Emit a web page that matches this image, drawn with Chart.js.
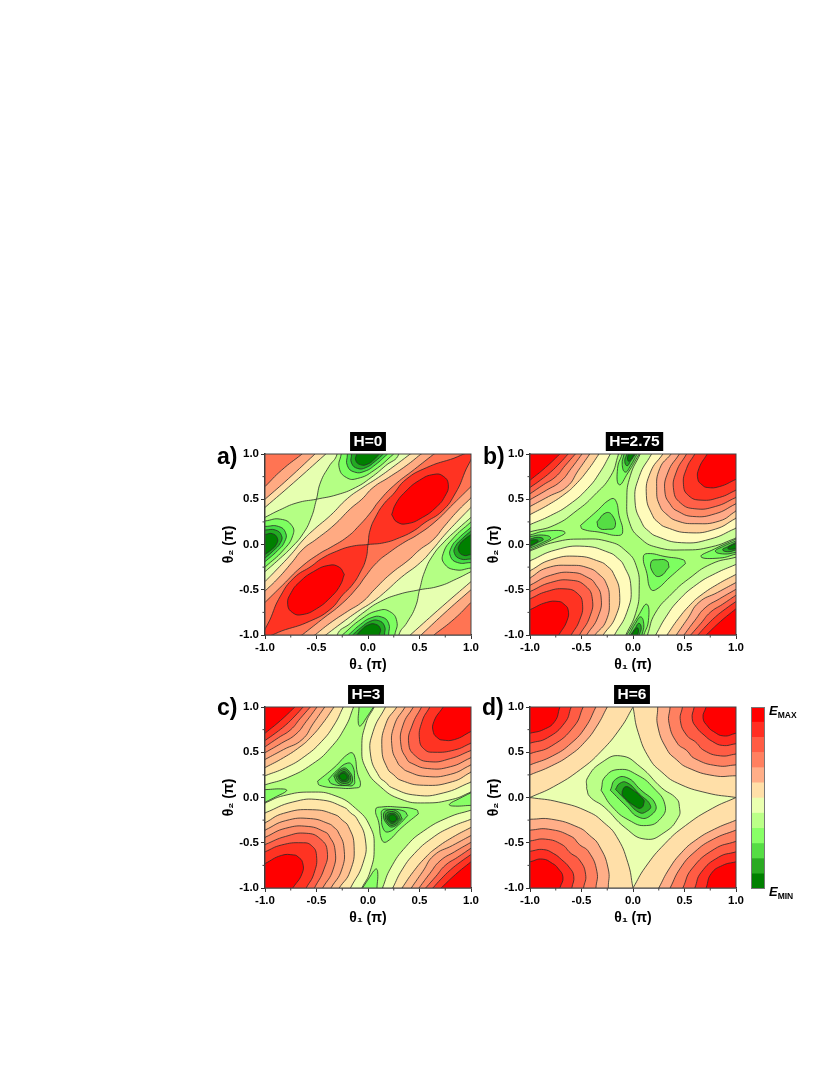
<!DOCTYPE html>
<html>
<head>
<meta charset="utf-8">
<title>Energy maps</title>
<script src="https://cdn.jsdelivr.net/npm/chart.js@4"></script>
<style>
html, body { margin: 0; padding: 0; background: #fff; }
body { position: relative; width: 830px; height: 1075px; overflow: hidden; font-family: "Liberation Sans", Arial, sans-serif; }
canvas { position: absolute; }
.tag { position: absolute; font: bold 23px/1 "Liberation Sans", Arial, sans-serif; color: #000; }
.scale { position: absolute; left: 769px; font: italic bold 13px/1 "Liberation Sans", Arial, sans-serif; color: #000; white-space: nowrap; }
.scale span { font-style: normal; font-size: 8.5px; position: relative; top: 3px; }
</style>
</head>
<body>
<canvas id="panelA" width="310" height="250" style="left:213px;top:430px"></canvas>
<canvas id="panelB" width="310" height="250" style="left:478px;top:430px"></canvas>
<canvas id="panelC" width="310" height="250" style="left:213px;top:683px"></canvas>
<canvas id="panelD" width="310" height="250" style="left:478px;top:683px"></canvas>
<canvas id="colorBar" width="14" height="182" style="left:751px;top:707px"></canvas>
<div class="tag" style="left:217px;top:445px">a)</div>
<div class="tag" style="left:483px;top:445px">b)</div>
<div class="tag" style="left:217px;top:696px">c)</div>
<div class="tag" style="left:482px;top:696px">d)</div>
<div class="scale" style="top:704px">E<span>MAX</span></div>
<div class="scale" style="top:885px">E<span>MIN</span></div>
<script>
const axisTicks = [-1, -0.5, 0, 0.5, 1];
const minorTicks = [-0.75, -0.25, 0.25, 0.75];
const barColors = ['#008000', '#2aaa22', '#55dd44', '#88ff66', '#bbff88', '#eaffb0', '#ffdfa8', '#ffae88', '#ff8060', '#ff5c44', '#ff2e22', '#ff0000'];
const barSteps = [1, 1, 1, 1, 1, 1, 1, 1, 1, 1, 1, 1];

const bandsA = ['#ff0000', '#ff3322', '#ff7453', '#ffaa82', '#ffdfa8', '#e6ffb0', '#b4ff84', '#7dff60', '#44dd44', '#22aa22', '#008000'];
const bandsB = ['#ff0000', '#ff3322', '#ff6048', '#ff8a66', '#ffaa88', '#ffd09a', '#fffbbb', '#ccff99', '#aaff77', '#7dff60', '#55dd44', '#22aa22', '#008000'];
const bandsC = ['#ff0000', '#ff3322', '#ff6048', '#ff8a66', '#ffa880', '#ffc090', '#ffe6a8', '#eeffb0', '#b4ff80', '#88ff66', '#66ee55', '#44cc33', '#2aaa22', '#118811', '#007f00'];
const bandsD = ['#ff0000', '#ff2e22', '#ff5c44', '#ff8060', '#ffae88', '#ffdfa8', '#eaffb0', '#bbff88', '#88ff66', '#55dd44', '#2aaa22', '#008000'];

// contour outlines: [band, [x, y, x, y, ...]], painted in this order
const regionsA = [
    [5, [-3, -3, 3, -3, 3, 3, -3, 3]],
    [4, [-1, .41, -.725, .68, -.41, 1, -1.3, 1.3]],
    [3, [-1, .5, -.77, .73, -.515, 1, -1.3, 1.3]],
    [2, [-1, .64, -.84, .82, -.64, 1, -1.3, 1.3]],
    [4, [1, -.41, .725, -.68, .41, -1, 1.3, -1.3]],
    [3, [1, -.5, .77, -.73, .515, -1, 1.3, -1.3]],
    [2, [1, -.64, .84, -.82, .64, -1, 1.3, -1.3]],
    [4, [-1, -.41, -.88, -.27, -.74, -.1, -.63, .05, -.52, .17, -.362, .324, -.2, .508, -.05, .63, .1, .74, .27, .88, .41, 1, 1.3, 1.3, 1, .41, .88, .27, .74, .1, .63, -.05, .508, -.2, .324, -.362, .17, -.52, .05, -.63, -.1, -.74, -.27, -.88, -.41, -1, -1.3, -1.3]],
    [3, [-1, -.515, -.87, -.37, -.74, -.2, -.63, -.05, -.5, .06, -.33, .214, -.168, .398, -.06, .5, .05, .63, .2, .74, .37, .87, .515, 1, 1.3, 1.3, 1, .515, .87, .37, .74, .2, .63, .05, .5, -.06, .398, -.168, .214, -.33, .06, -.5, -.05, -.63, -.2, -.74, -.37, -.87, -.515, -1, -1.3, -1.3]],
    [2, [-1, -.64, -.83, -.45, -.65, -.25, -.47, -.1, -.36, -.03, -.2, .085, -.085, .21, .03, .36, .1, .47, .25, .65, .45, .83, .64, 1, 1.3, 1.3, 1, .64, .83, .45, .65, .25, .47, .1, .36, .03, .21, -.085, .085, -.2, -.03, -.36, -.1, -.47, -.25, -.65, -.45, -.83, -.64, -1, -1.3, -1.3]],
    [1, [0, 0, .02, .158, .074, .304, .155, .45, .24, .55, .37, .72, .57, .85, .8, .94, 1, 1, .94, .8, .85, .57, .72, .37, .545, .236, .45, .155, .304, .074, .158, .02, 0, 0]],
    [1, [0, 0, -.02, -.158, -.074, -.304, -.155, -.45, -.24, -.55, -.37, -.72, -.57, -.85, -.8, -.94, -1, -1, -.94, -.8, -.85, -.57, -.72, -.37, -.545, -.236, -.45, -.155, -.304, -.074, -.158, -.02, 0, 0]],
    [0, [.23, .33, .27, .45, .36, .58, .5, .71, .64, .775, .73, .755, .78, .66, .745, .53, .66, .41, .53, .3, .38, .23, .28, .25, .23, .33]],
    [0, [-.23, -.33, -.27, -.45, -.36, -.58, -.5, -.71, -.64, -.775, -.73, -.755, -.78, -.66, -.745, -.53, -.66, -.41, -.53, -.3, -.38, -.23, -.28, -.25, -.23, -.33]],
    [6, [-.5, .5, -.46, .69, -.38, .86, -.3, 1, -.27, 1.3, .33, 1.3, .3, 1, .17, .87, .03, .74, -.12, .63, -.3, .55, -.5, .5]],
    [6, [-.5, .5, -.69, .46, -.86, .38, -1, .3, -1.3, .2, -1.3, -.35, -1, -.3, -.87, -.17, -.74, -.03, -.63, .12, -.55, .3, -.5, .5]],
    [6, [.5, -.5, .69, -.46, .86, -.38, 1, -.3, 1.3, -.2, 1.3, .35, 1, .3, .87, .17, .74, .03, .63, -.12, .55, -.3, .5, -.5]],
    [6, [.5, -.5, .46, -.69, .38, -.86, .3, -1, .27, -1.3, -.33, -1.3, -.3, -1, -.17, -.87, -.03, -.74, .12, -.63, .3, -.55, .5, -.5]],
    [7, [-1, .26, -.85, .28, -.74, .21, -.73, .1, -.82, -.06, -1, -.25]],
    [8, [-1, .2, -.87, .2, -.8, .13, -.81, .03, -.88, -.07, -1, -.19]],
    [9, [-1, .16, -.9, .16, -.84, .1, -.85, .02, -.92, -.07, -1, -.15]],
    [10, [-1, .11, -.93, .12, -.88, .07, -.89, 0, -.94, -.06, -1, -.11]],
    [7, [1, -.26, .85, -.28, .74, -.21, .73, -.1, .82, .06, 1, .25]],
    [8, [1, -.2, .87, -.2, .8, -.13, .81, -.03, .88, .07, 1, .19]],
    [9, [1, -.16, .9, -.16, .84, -.1, .85, -.02, .92, .07, 1, .15]],
    [10, [1, -.11, .93, -.12, .88, -.07, .89, 0, .94, .06, 1, .11]],
    [7, [-.26, 1, -.28, .85, -.21, .74, -.1, .73, .06, .82, .25, 1]],
    [8, [-.2, 1, -.2, .87, -.13, .8, -.03, .81, .07, .88, .19, 1]],
    [9, [-.16, 1, -.16, .9, -.1, .84, -.02, .85, .07, .92, .15, 1]],
    [10, [-.11, 1, -.12, .93, -.07, .88, 0, .89, .06, .94, .11, 1]],
    [7, [.26, -1, .28, -.85, .21, -.74, .1, -.73, -.06, -.82, -.25, -1]],
    [8, [.2, -1, .2, -.87, .13, -.8, .03, -.81, -.07, -.88, -.19, -1]],
    [9, [.16, -1, .16, -.9, .1, -.84, .02, -.85, -.07, -.92, -.15, -1]],
    [10, [.11, -1, .12, -.93, .07, -.88, 0, -.89, -.06, -.94, -.11, -1]]
];

const regionsB = [
    [8, [-3, -3, 3, -3, 3, 3, -3, 3]],
    [7, [.07, 1, -.026, .76, -.06, .5, -.03, .23, .07, .07, .23, -.03, .5, -.06, .76, -.026, 1, .07, 1.3, 1.3]],
    [6, [.18, 1, .06, .75, .02, .47, .09, .23, .15, .15, .23, .09, .47, .02, .75, .06, 1, .18, 1.3, 1.3]],
    [5, [.29, 1, .17, .8, .13, .54, .19, .32, .25, .24, .32, .19, .54, .13, .8, .17, 1, .29, 1.3, 1.3]],
    [4, [.37, 1, .26, .84, .23, .6, .26, .43, .33, .33, .43, .26, .6, .23, .84, .26, 1, .37, 1.3, 1.3]],
    [3, [.45, 1, .34, .8, .31, .58, .37, .43, .43, .37, .58, .31, .8, .34, 1, .45, 1.3, 1.3]],
    [2, [.52, 1, .42, .8, .395, .6, .46, .46, .6, .395, .8, .42, 1, .52, 1.3, 1.3]],
    [1, [.6, 1, .52, .84, .49, .66, .54, .54, .66, .49, .84, .52, 1, .6, 1.3, 1.3]],
    [0, [.72, 1, .64, .84, .63, .72, .67, .66, .72, .63, .84, .64, 1, .72, 1.3, 1.3]],
    [7, [-.07, -1, .026, -.76, .06, -.5, .03, -.23, -.07, -.07, -.23, .03, -.5, .06, -.76, .026, -1, -.07, -1.3, -1.3]],
    [6, [-.18, -1, -.06, -.75, -.02, -.47, -.09, -.23, -.15, -.15, -.23, -.09, -.47, -.02, -.75, -.06, -1, -.18, -1.3, -1.3]],
    [5, [-.29, -1, -.17, -.8, -.13, -.54, -.19, -.32, -.25, -.24, -.32, -.19, -.54, -.13, -.8, -.17, -1, -.29, -1.3, -1.3]],
    [4, [-.37, -1, -.26, -.84, -.23, -.6, -.26, -.43, -.33, -.33, -.43, -.26, -.6, -.23, -.84, -.26, -1, -.37, -1.3, -1.3]],
    [3, [-.45, -1, -.34, -.8, -.31, -.58, -.37, -.43, -.43, -.37, -.58, -.31, -.8, -.34, -1, -.45, -1.3, -1.3]],
    [2, [-.52, -1, -.42, -.8, -.395, -.6, -.46, -.46, -.6, -.395, -.8, -.42, -1, -.52, -1.3, -1.3]],
    [1, [-.6, -1, -.52, -.84, -.49, -.66, -.54, -.54, -.66, -.49, -.84, -.52, -1, -.6, -1.3, -1.3]],
    [0, [-.72, -1, -.64, -.84, -.63, -.72, -.67, -.66, -.72, -.63, -.84, -.64, -1, -.72, -1.3, -1.3]],
    [7, [-1, .14, -.76, .215, -.54, .38, -.38, .54, -.215, .76, -.14, 1, -1.3, 1.3]],
    [6, [-1, .22, -.8, .32, -.62, .44, -.44, .62, -.32, .8, -.22, 1, -1.3, 1.3]],
    [5, [-1, .33, -.82, .44, -.66, .56, -.56, .66, -.44, .82, -.33, 1, -1.3, 1.3]],
    [4, [-1, .42, -.82, .53, -.64, .64, -.53, .82, -.42, 1, -1.3, 1.3]],
    [3, [-1, .495, -.84, .6, -.7, .7, -.6, .84, -.495, 1, -1.3, 1.3]],
    [2, [-1, .56, -.87, .66, -.75, .75, -.66, .87, -.56, 1, -1.3, 1.3]],
    [1, [-1, .63, -.9, .71, -.8, .8, -.71, .9, -.63, 1, -1.3, 1.3]],
    [0, [-1, .71, -.85, .85, -.71, 1, -1.3, 1.3]],
    [7, [1, -.14, .76, -.215, .54, -.38, .38, -.54, .215, -.76, .14, -1, 1.3, -1.3]],
    [6, [1, -.22, .8, -.32, .62, -.44, .44, -.62, .32, -.8, .22, -1, 1.3, -1.3]],
    [5, [1, -.33, .82, -.44, .66, -.56, .56, -.66, .44, -.82, .33, -1, 1.3, -1.3]],
    [4, [1, -.42, .82, -.53, .64, -.64, .53, -.82, .42, -1, 1.3, -1.3]],
    [3, [1, -.495, .84, -.6, .7, -.7, .6, -.84, .495, -1, 1.3, -1.3]],
    [2, [1, -.56, .87, -.66, .75, -.75, .66, -.87, .56, -1, 1.3, -1.3]],
    [1, [1, -.63, .9, -.71, .8, -.8, .71, -.9, .63, -1, 1.3, -1.3]],
    [0, [1, -.71, .85, -.85, .71, -1, 1.3, -1.3]],
    [9, [-.51, .21, -.36, .36, -.22, .5, -.17, .49, -.135, .32, -.1, .14, -.14, .1, -.32, .135, -.49, .17, -.51, .21]],
    [10, [-.35, .25, -.264, .35, -.2, .32, -.176, .193, -.25, .168, -.33, .183, -.35, .25]],
    [9, [.51, -.21, .36, -.36, .22, -.5, .17, -.49, .135, -.32, .1, -.14, .14, -.1, .32, -.135, .49, -.17, .51, -.21]],
    [10, [.35, -.25, .264, -.35, .2, -.32, .176, -.193, .25, -.168, .33, -.183, .35, -.25]],
    [9, [-1, .105, -.838, .15, -.66, .134, -.79, .05, -1, -.06]],
    [10, [-1, .087, -.886, .105, -.8, .075, -.87, .024, -1, -.04]],
    [11, [-1, .06, -.92, .08, -.87, .057, -.92, .024, -1, -.024]],
    [12, [-1, .046, -.94, .053, -.92, .039, -.95, .013, -1, -.013]],
    [9, [1, -.105, .838, -.15, .66, -.134, .79, -.05, 1, .06]],
    [10, [1, -.087, .886, -.105, .8, -.075, .87, -.024, 1, .04]],
    [11, [1, -.06, .92, -.08, .87, -.057, .92, -.024, 1, .024]],
    [12, [1, -.046, .94, -.053, .92, -.039, .95, -.013, 1, .013]],
    [9, [-.105, 1, -.15, .84, -.134, .66, -.05, .79, .06, 1]],
    [10, [-.087, 1, -.105, .886, -.075, .8, -.024, .87, .04, 1]],
    [11, [-.06, 1, -.08, .92, -.057, .87, -.024, .92, .024, 1]],
    [12, [-.046, 1, -.053, .94, -.039, .92, -.013, .95, .013, 1]],
    [9, [.105, -1, .15, -.84, .134, -.66, .05, -.79, -.06, -1]],
    [10, [.087, -1, .105, -.886, .075, -.8, .024, -.87, -.04, -1]],
    [11, [.06, -1, .08, -.92, .057, -.87, .024, -.92, -.024, -1]],
    [12, [.046, -1, .053, -.94, .039, -.92, .013, -.95, -.013, -1]]
];

const regionsC = [
    [8, [-3, -3, 3, -3, 3, 3, -3, 3]],
    [7, [.06, 1, -.02, .82, -.06, .55, -.02, .32, .12, .12, .32, -.02, .55, -.06, .82, -.02, 1, .06, 1.3, 1.3]],
    [6, [.17, 1, .05, .73, .025, .47, .11, .23, .17, .17, .23, .11, .47, .025, .73, .05, 1, .17, 1.3, 1.3]],
    [5, [.28, 1, .175, .82, .135, .54, .19, .32, .25, .25, .32, .19, .54, .135, .82, .175, 1, .28, 1.3, 1.3]],
    [4, [.36, 1, .256, .8, .233, .56, .29, .38, .33, .33, .38, .29, .56, .233, .8, .256, 1, .36, 1.3, 1.3]],
    [3, [.44, 1, .34, .8, .32, .58, .38, .42, .42, .38, .58, .32, .8, .34, 1, .44, 1.3, 1.3]],
    [2, [.52, 1, .43, .8, .395, .6, .46, .46, .6, .395, .8, .43, 1, .52, 1.3, 1.3]],
    [1, [.6, 1, .525, .84, .5, .64, .55, .53, .64, .5, .84, .525, 1, .6, 1.3, 1.3]],
    [0, [.73, 1, .64, .84, .635, .72, .68, .655, .72, .635, .84, .64, 1, .73, 1.3, 1.3]],
    [7, [-.06, -1, .02, -.82, .06, -.55, .02, -.32, -.12, -.12, -.32, .02, -.55, .06, -.82, .02, -1, -.06, -1.3, -1.3]],
    [6, [-.17, -1, -.05, -.73, -.025, -.47, -.11, -.23, -.17, -.17, -.23, -.11, -.47, -.025, -.73, -.05, -1, -.17, -1.3, -1.3]],
    [5, [-.28, -1, -.175, -.82, -.135, -.54, -.19, -.32, -.25, -.25, -.32, -.19, -.54, -.135, -.82, -.175, -1, -.28, -1.3, -1.3]],
    [4, [-.36, -1, -.256, -.8, -.233, -.56, -.29, -.38, -.33, -.33, -.38, -.29, -.56, -.233, -.8, -.256, -1, -.36, -1.3, -1.3]],
    [3, [-.44, -1, -.34, -.8, -.32, -.58, -.38, -.42, -.42, -.38, -.58, -.32, -.8, -.34, -1, -.44, -1.3, -1.3]],
    [2, [-.52, -1, -.43, -.8, -.395, -.6, -.46, -.46, -.6, -.395, -.8, -.43, -1, -.52, -1.3, -1.3]],
    [1, [-.6, -1, -.525, -.84, -.5, -.64, -.55, -.53, -.64, -.5, -.84, -.525, -1, -.6, -1.3, -1.3]],
    [0, [-.73, -1, -.64, -.84, -.635, -.72, -.68, -.655, -.72, -.635, -.84, -.64, -1, -.73, -1.3, -1.3]],
    [7, [-1, .14, -.78, .22, -.54, .37, -.37, .54, -.22, .78, -.14, 1, -1.3, 1.3]],
    [6, [-1, .24, -.8, .33, -.62, .45, -.45, .62, -.33, .8, -.24, 1, -1.3, 1.3]],
    [5, [-1, .33, -.82, .44, -.66, .56, -.56, .66, -.44, .82, -.33, 1, -1.3, 1.3]],
    [4, [-1, .42, -.82, .53, -.64, .64, -.53, .82, -.42, 1, -1.3, 1.3]],
    [3, [-1, .495, -.84, .6, -.7, .7, -.6, .84, -.495, 1, -1.3, 1.3]],
    [2, [-1, .56, -.87, .66, -.75, .75, -.66, .87, -.56, 1, -1.3, 1.3]],
    [1, [-1, .63, -.9, .71, -.8, .8, -.71, .9, -.63, 1, -1.3, 1.3]],
    [0, [-1, .71, -.85, .85, -.71, 1, -1.3, 1.3]],
    [7, [1, -.14, .78, -.22, .54, -.37, .37, -.54, .22, -.78, .14, -1, 1.3, -1.3]],
    [6, [1, -.24, .8, -.33, .62, -.45, .45, -.62, .33, -.8, .24, -1, 1.3, -1.3]],
    [5, [1, -.33, .82, -.44, .66, -.56, .56, -.66, .44, -.82, .33, -1, 1.3, -1.3]],
    [4, [1, -.42, .82, -.53, .64, -.64, .53, -.82, .42, -1, 1.3, -1.3]],
    [3, [1, -.495, .84, -.6, .7, -.7, .6, -.84, .495, -1, 1.3, -1.3]],
    [2, [1, -.56, .87, -.66, .75, -.75, .66, -.87, .56, -1, 1.3, -1.3]],
    [1, [1, -.63, .9, -.71, .8, -.8, .71, -.9, .63, -1, 1.3, -1.3]],
    [0, [1, -.71, .85, -.85, .71, -1, 1.3, -1.3]],
    [9, [-.49, .18, -.33, .33, -.18, .49, -.135, .47, -.105, .28, -.075, .13, -.13, .105, -.28, .105, -.47, .135, -.49, .18]],
    [10, [-.385, .2, -.3, .3, -.2, .38, -.15, .35, -.13, .2, -.14, .14, -.2, .13, -.35, .15, -.385, .2]],
    [11, [-.333, .24, -.25, .322, -.194, .304, -.15, .193, -.194, .138, -.29, .157, -.333, .24]],
    [12, [-.314, .24, -.25, .304, -.194, .285, -.17, .193, -.21, .157, -.28, .175, -.314, .24]],
    [13, [-.295, .24, -.243, .285, -.204, .267, -.185, .204, -.227, .175, -.27, .19, -.295, .24]],
    [14, [-.28, .24, -.243, .27, -.21, .25, -.204, .21, -.236, .19, -.265, .204, -.28, .24]],
    [9, [.49, -.18, .33, -.33, .18, -.49, .135, -.47, .105, -.28, .075, -.13, .13, -.105, .28, -.105, .47, -.135, .49, -.18]],
    [10, [.385, -.2, .3, -.3, .2, -.38, .15, -.35, .13, -.2, .14, -.14, .2, -.13, .35, -.15, .385, -.2]],
    [11, [.333, -.24, .25, -.322, .194, -.304, .15, -.193, .194, -.138, .29, -.157, .333, -.24]],
    [12, [.314, -.24, .25, -.304, .194, -.285, .17, -.193, .21, -.157, .28, -.175, .314, -.24]],
    [13, [.295, -.24, .243, -.285, .204, -.267, .185, -.204, .227, -.175, .27, -.19, .295, -.24]],
    [14, [.28, -.24, .243, -.27, .21, -.25, .204, -.21, .236, -.19, .265, -.204, .28, -.24]],
    [9, [-1, .087, -.82, .094, -.79, .075, -.886, .013, -1, -.053]],
    [9, [1, -.087, .82, -.094, .79, -.075, .886, -.013, 1, .053]],
    [9, [-.087, 1, -.094, .82, -.075, .79, -.013, .886, .053, 1]],
    [9, [.087, -1, .094, -.82, .075, -.79, .013, -.886, -.053, -1]]
];

const regionsD = [
    [6, [-3, -3, 3, -3, 3, 3, -3, 3]],
    [5, [0, 1, .05, .72, .16, .43, .28, .28, .43, .16, .72, .05, 1, 0, 1.3, 1.3]],
    [4, [.24, 1, .24, .79, .33, .53, .42, .42, .53, .33, .79, .24, 1, .24, 1.3, 1.3]],
    [3, [.36, 1, .35, .82, .43, .6, .52, .52, .6, .43, .82, .35, 1, .36, 1.3, 1.3]],
    [2, [.48, 1, .46, .85, .52, .69, .61, .61, .69, .52, .85, .46, 1, .48, 1.3, 1.3]],
    [1, [.594, 1, .575, .87, .62, .77, .69, .69, .77, .62, .87, .575, 1, .594, 1.3, 1.3]],
    [0, [.71, 1, .68, .88, .73, .78, .78, .73, .88, .68, 1, .71, 1.3, 1.3]],
    [5, [0, -1, -.05, -.72, -.16, -.43, -.28, -.28, -.43, -.16, -.72, -.05, -1, 0, -1.3, -1.3]],
    [4, [-.24, -1, -.24, -.79, -.33, -.53, -.42, -.42, -.53, -.33, -.79, -.24, -1, -.24, -1.3, -1.3]],
    [3, [-.36, -1, -.35, -.82, -.43, -.6, -.52, -.52, -.6, -.43, -.82, -.35, -1, -.36, -1.3, -1.3]],
    [2, [-.48, -1, -.46, -.85, -.52, -.69, -.61, -.61, -.69, -.52, -.85, -.46, -1, -.48, -1.3, -1.3]],
    [1, [-.594, -1, -.575, -.87, -.62, -.77, -.69, -.69, -.77, -.62, -.87, -.575, -1, -.594, -1.3, -1.3]],
    [0, [-.71, -1, -.68, -.88, -.73, -.78, -.78, -.73, -.88, -.68, -1, -.71, -1.3, -1.3]],
    [5, [0, 1, -.12, .77, -.31, .51, -.51, .31, -.77, .12, -1, 0, -1.3, 1.3]],
    [4, [-1, .25, -.79, .35, -.61, .47, -.47, .61, -.35, .79, -.25, 1, -1.3, 1.3]],
    [3, [-1, .36, -.78, .46, -.6, .6, -.46, .78, -.36, 1, -1.3, 1.3]],
    [2, [-1, .484, -.79, .57, -.57, .79, -.484, 1, -1.3, 1.3]],
    [1, [-1, .6, -.83, .66, -.66, .83, -.6, 1, -1.3, 1.3]],
    [0, [-1, .71, -.87, .75, -.76, .84, -.71, 1, -1.3, 1.3]],
    [5, [0, -1, .12, -.77, .31, -.51, .51, -.31, .77, -.12, 1, 0, 1.3, -1.3]],
    [4, [1, -.25, .79, -.35, .61, -.47, .47, -.61, .35, -.79, .25, -1, 1.3, -1.3]],
    [3, [1, -.36, .78, -.46, .6, -.6, .46, -.78, .36, -1, 1.3, -1.3]],
    [2, [1, -.484, .79, -.57, .57, -.79, .484, -1, 1.3, -1.3]],
    [1, [1, -.6, .83, -.66, .66, -.83, .6, -1, 1.3, -1.3]],
    [0, [1, -.71, .87, -.75, .76, -.84, .71, -1, 1.3, -1.3]],
    [7, [-.45, .1, -.44, .22, -.3, .39, -.12, .46, .07, .34, .28, .105, .42, -.01, .45, -.1, .44, -.22, .3, -.39, .12, -.46, -.07, -.34, -.28, -.105, -.42, .01, -.45, .1]],
    [8, [-.31, .08, -.27, .23, -.13, .31, .04, .25, .2, .105, .31, -.08, .27, -.23, .13, -.31, -.04, -.25, -.2, -.105, -.31, .08]],
    [9, [-.22, .08, -.17, .2, -.06, .22, .07, .09, .22, -.08, .17, -.2, .06, -.22, -.07, -.09, -.22, .08]],
    [10, [-.17, .09, -.13, .155, -.06, .165, .06, .04, .17, -.09, .13, -.155, .06, -.165, -.06, -.04, -.17, .09]],
    [11, [-.105, .065, -.08, .115, -.03, .105, .1, -.02, .105, -.065, .08, -.115, .03, -.105, -.1, .02, -.105, .065]]
];

const FONT = '"Liberation Sans", Arial, sans-serif';

// a point next to an off-frame closing corner goes in twice, so the spline stays sharp there
function toPoints(flat) {
    const off = i => i >= 0 && i < flat.length && Math.abs(flat[i]) > 1.05;
    const pts = [];
    for (let i = 0; i < flat.length; i += 2) {
        const p = { x: flat[i], y: flat[i + 1] };
        pts.push(p);
        if (off(i - 2) || off(i + 2)) pts.push({ x: p.x, y: p.y });
    }
    return pts;
}

// black box behind the title, thin frame and the short ticks
const panelDecor = {
    id: 'panelDecor',
    afterLayout(chart, args, opts) {
        const t = chart.titleBlock, a = chart.chartArea;
        const cx = (a.left + a.right) / 2 + opts.shift;
        t.left = cx - 100;
        t.right = cx + 100;
    },
    beforeDraw(chart) {
        const t = chart.titleBlock, ctx = chart.ctx;
        ctx.save();
        ctx.font = 'bold 15.5px ' + FONT;
        const w = ctx.measureText(t.options.text).width + 7;
        ctx.fillStyle = '#000';
        ctx.fillRect((t.left + t.right) / 2 - w / 2, t.top + 2, w, 19);
        ctx.restore();
    },
    afterDraw(chart) {
        const ctx = chart.ctx, a = chart.chartArea;
        ctx.save();
        ctx.strokeStyle = '#444';
        ctx.lineWidth = 1;
        ctx.strokeRect(a.left, a.top, a.right - a.left, a.bottom - a.top);
        minorTicks.forEach(v => {
            const px = chart.scales.x.getPixelForValue(v), py = chart.scales.y.getPixelForValue(v);
            ctx.beginPath();
            ctx.moveTo(px, a.bottom);
            ctx.lineTo(px, a.bottom + 2.5);
            ctx.moveTo(a.left, py);
            ctx.lineTo(a.left - 2.5, py);
            ctx.stroke();
        });
        ctx.restore();
    }
};

function axis(text, fit) {
    return {
        type: 'linear', min: -1, max: 1,
        afterBuildTicks: scale => { scale.ticks = axisTicks.map(v => ({ value: v })); },
        afterFit: fit,
        border: { color: '#333', width: 1.5 },
        grid: { drawOnChartArea: false, tickLength: 4, tickColor: '#333', tickWidth: 1 },
        ticks: { color: '#000', padding: 2, maxRotation: 0, autoSkip: false, font: { family: FONT, weight: 'bold', size: 11.5 }, callback: v => v.toFixed(1) },
        title: { display: true, text: text, color: '#000', padding: 0, font: { family: FONT, weight: 'bold', size: 14, lineHeight: 1.1 } }
    };
}

function drawPanel(id, heading, regions, bands, titleShift) {
    const datasets = regions.slice().reverse().map(r => ({
        data: toPoints(r[1]),
        showLine: true,
        fill: 'shape',
        backgroundColor: bands[r[0]],
        borderColor: '#2a2a2a',
        borderWidth: 0.8,
        tension: 0.5,
        pointRadius: 0,
        pointHoverRadius: 0
    }));
    new Chart(document.getElementById(id), {
        type: 'scatter',
        data: { datasets },
        plugins: [panelDecor],
        options: {
            responsive: false,
            animation: false,
            events: [],
            layout: { padding: { left: 8, right: 52, top: 0, bottom: 7 } },
            elements: { line: { capBezierPoints: false } },
            plugins: {
                legend: { display: false },
                tooltip: { enabled: false },
                panelDecor: { shift: titleShift },
                title: { display: true, text: heading, color: '#fff', padding: { top: 2, bottom: 2 }, font: { family: FONT, weight: 'bold', size: 15.5, lineHeight: '20px' } }
            },
            scales: {
                x: axis('\u03B8\u2081 (\u03C0)', s => { s.height = 38; }),
                y: axis('\u03B8\u2082 (\u03C0)', s => { s.width = 44; })
            }
        }
    });
}

drawPanel('panelA', 'H=0', regionsA, bandsA, 0);
drawPanel('panelB', 'H=2.75', regionsB, bandsB, 1.5);
drawPanel('panelC', 'H=3', regionsC, bandsC, -2);
drawPanel('panelD', 'H=6', regionsD, bandsD, -1);

new Chart(document.getElementById('colorBar'), {
    type: 'bar',
    data: {
        labels: [''],
        datasets: barColors.map((c, i) => ({ data: [barSteps[i]], backgroundColor: c, barPercentage: 1, categoryPercentage: 1 }))
    },
    plugins: [{
        id: 'barFrame',
        afterDraw(chart) {
            const a = chart.chartArea;
            chart.ctx.strokeStyle = '#777';
            chart.ctx.lineWidth = 1;
            chart.ctx.strokeRect(a.left + 0.5, a.top + 0.5, a.right - a.left - 1, a.bottom - a.top - 1);
        }
    }],
    options: {
        responsive: false,
        animation: false,
        events: [],
        plugins: { legend: { display: false }, tooltip: { enabled: false } },
        scales: {
            x: { stacked: true, display: false },
            y: { stacked: true, display: false, min: 0, max: barSteps.length }
        }
    }
});
</script>
</body>
</html>
